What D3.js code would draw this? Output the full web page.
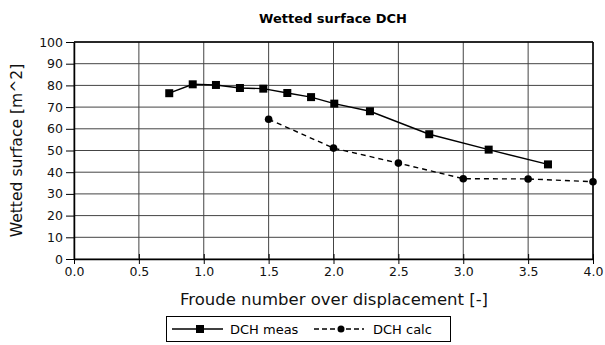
<!DOCTYPE html>
<html>
<head>
    <meta charset="utf-8">
    <title>Wetted surface DCH</title>
    <style>
        body { margin: 0; background: #fff; }
        svg { font-family: "DejaVu Sans", sans-serif; }
    </style>
</head>
<body>
    <div id="chart"></div>
    <script src="https://d3js.org/d3.v7.min.js"></script>
    <script>
        // measured points
        const measFr = [0.734, 0.915, 1.094, 1.279, 1.459, 1.644, 1.827, 2.006, 2.281, 2.738, 3.196, 3.653];
        const measS  = [76.4, 80.5, 80.2, 78.8, 78.5, 76.5, 74.6, 71.6, 68.1, 57.5, 50.4, 43.6];
        // calculated points
        const calcFr = [1.5, 2.0, 2.5, 3.0, 3.5, 4.0];
        const calcS  = [64.4, 51.1, 44.2, 37.0, 36.9, 35.6];

        const xTicks = [0, 0.5, 1, 1.5, 2, 2.5, 3, 3.5, 4];
        const yTicks = [0, 10, 20, 30, 40, 50, 60, 70, 80, 90, 100];

        const width = 605, height = 345;
        const m = { left: 74, right: 12, top: 42, bottom: 86 };

        const svg = d3.select('#chart').append('svg')
            .attr('width', width)
            .attr('height', height);

        const x = d3.scaleLinear().domain([0, 4]).range([m.left, width - m.right]);
        const y = d3.scaleLinear().domain([0, 100]).range([height - m.bottom, m.top]);

        // gridlines
        svg.append('g')
            .selectAll('line')
            .data(yTicks)
            .enter().append('line')
            .attr('x1', x(0)).attr('x2', x(4))
            .attr('y1', d => y(d)).attr('y2', d => y(d))
            .style('stroke', '#444')
            .style('stroke-width', 1);

        svg.append('g')
            .selectAll('line')
            .data(xTicks)
            .enter().append('line')
            .attr('y1', y(0)).attr('y2', y(100))
            .attr('x1', d => x(d)).attr('x2', d => x(d))
            .style('stroke', '#444')
            .style('stroke-width', 1);

        // axes
        const xAxis = svg.append('g')
            .attr('transform', `translate(0,${y(0)})`)
            .call(d3.axisBottom(x).tickValues(xTicks).tickFormat(d3.format('.1f')).tickSize(5).tickSizeOuter(0));
        const yAxis = svg.append('g')
            .attr('transform', `translate(${x(0)},0)`)
            .call(d3.axisLeft(y).tickValues(yTicks).tickSize(8).tickSizeOuter(0));

        [xAxis, yAxis].forEach(a => {
            a.select('.domain').style('stroke', '#000').style('stroke-width', 1.5);
            a.selectAll('.tick line').style('stroke', '#000');
            a.selectAll('text')
                .style('font-family', '"DejaVu Sans", sans-serif')
                .style('font-size', '12.5px')
                .style('fill', '#111');
        });
        xAxis.selectAll('.tick line').attr('y1', -5);
        yAxis.selectAll('text').attr('x', -11);

        // frame top/right
        svg.append('line')
            .attr('x1', x(4)).attr('x2', x(4))
            .attr('y1', y(0)).attr('y2', y(100))
            .style('stroke', '#000').style('stroke-width', 1.5);
        svg.append('line')
            .attr('x1', x(0)).attr('x2', x(4))
            .attr('y1', y(100)).attr('y2', y(100))
            .style('stroke', '#000').style('stroke-width', 1.5);

        const meas = measFr.map((f, i) => ({ f, s: measS[i] }));
        const calc = calcFr.map((f, i) => ({ f, s: calcS[i] }));

        const line = d3.line().x(d => x(d.f)).y(d => y(d.s));

        svg.append('path')
            .datum(meas)
            .attr('d', line)
            .style('fill', 'none')
            .style('stroke', '#000')
            .style('stroke-width', 1.4);

        svg.append('g')
            .selectAll('rect')
            .data(meas)
            .enter().append('rect')
            .attr('x', d => x(d.f) - 4)
            .attr('y', d => y(d.s) - 4)
            .attr('width', 8)
            .attr('height', 8)
            .style('fill', '#000');

        svg.append('path')
            .datum(calc)
            .attr('d', line)
            .style('fill', 'none')
            .style('stroke', '#000')
            .style('stroke-width', 1.4)
            .style('stroke-dasharray', '5,4');

        svg.append('g')
            .selectAll('circle')
            .data(calc)
            .enter().append('circle')
            .attr('cx', d => x(d.f))
            .attr('cy', d => y(d.s))
            .attr('r', 3.8)
            .style('fill', '#000');

        // title + axis labels
        svg.append('text')
            .attr('x', 333).attr('y', 23)
            .attr('text-anchor', 'middle')
            .style('font-size', '13px')
            .style('font-weight', 'bold')
            .text('Wetted surface DCH');

        svg.append('text')
            .attr('x', 334).attr('y', 305)
            .attr('text-anchor', 'middle')
            .style('font-size', '16.5px')
            .style('fill', '#111')
            .text('Froude number over displacement [-]');

        svg.append('text')
            .attr('transform', `translate(22,${(y(0) + y(100)) / 2}) rotate(-90)`)
            .attr('text-anchor', 'middle')
            .style('font-size', '15.6px')
            .style('fill', '#111')
            .text('Wetted surface [m^2]');

        // legend
        const lg = svg.append('g');
        lg.append('rect')
            .attr('x', 166.5).attr('y', 316.5)
            .attr('width', 284).attr('height', 25)
            .style('fill', '#fff')
            .style('stroke', '#000')
            .style('stroke-width', 1);

        lg.append('line')
            .attr('x1', 172).attr('x2', 223).attr('y1', 329).attr('y2', 329)
            .style('stroke', '#000').style('stroke-width', 1.5);
        lg.append('rect')
            .attr('x', 196).attr('y', 325).attr('width', 8).attr('height', 8)
            .style('fill', '#000');
        lg.append('text')
            .attr('x', 230).attr('y', 334)
            .style('font-size', '13px')
            .text('DCH meas');

        lg.append('line')
            .attr('x1', 314).attr('x2', 364).attr('y1', 329).attr('y2', 329)
            .style('stroke', '#000').style('stroke-width', 1.5)
            .style('stroke-dasharray', '5,3');
        lg.append('circle')
            .attr('cx', 341).attr('cy', 329).attr('r', 3.5)
            .style('fill', '#000');
        lg.append('text')
            .attr('x', 373).attr('y', 334)
            .style('font-size', '13px')
            .text('DCH calc');
    </script>
</body>
</html>
